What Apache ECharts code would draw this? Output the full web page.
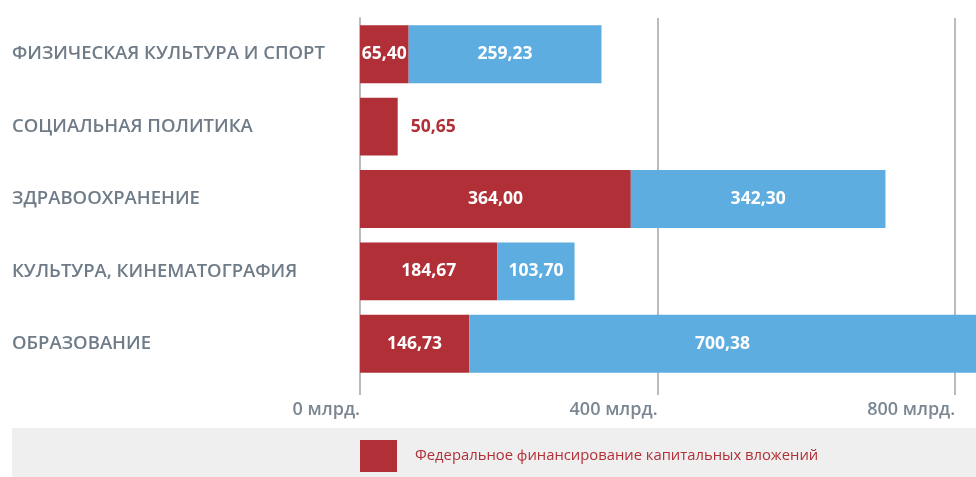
<!DOCTYPE html>
<html>
<head>
<meta charset="utf-8">
<script src="https://cdn.jsdelivr.net/npm/echarts@6/dist/echarts.min.js"></script>
<style>
  html, body { margin: 0; padding: 0; background: #fff; }
  #chart { width: 976px; height: 477px; }
</style>
</head>
<body>
<div id="chart"></div>
<script>
// категории сверху вниз
var categories = ['ФИЗИЧЕСКАЯ КУЛЬТУРА И СПОРТ', 'СОЦИАЛЬНАЯ ПОЛИТИКА', 'ЗДРАВООХРАНЕНИЕ',
                  'КУЛЬТУРА, КИНЕМАТОГРАФИЯ', 'ОБРАЗОВАНИЕ'];
var federal = [65.40, 50.65, 364.00, 184.67, 146.73];
var other = [259.23, null, 342.30, 103.70, 700.38];
var xTicks = [0, 400, 800];
var seriesNames = ['Федеральное финансирование капитальных вложений', 'Прочие источники'];

var RED = '#b12f36';
var BLUE = '#5dade0';

function fmt(v) {
    return v.toFixed(2).replace('.', ',');
}

var federalData = federal.map(function (v, i) {
    if (other[i] == null) {
        // нет второго столбца: подпись справа, красным
        return {
            value: v,
            label: { position: 'right', distance: 13, color: RED }
        };
    }
    return v;
});

var myChart = echarts.init(document.getElementById('chart'));
var option = {
    backgroundColor: '#fff',
    animation: false,
    graphic: [
        {
            type: 'rect',
            left: 12, top: 428,
            shape: { width: 964, height: 49 },
            style: { fill: '#efefef' },
            z: -1
        }
    ],
    grid: {
        left: 360,
        right: 0,
        top: 18,
        bottom: 97
    },
    legend: {
        data: [seriesNames[0]],
        left: 360,
        top: 440,
        padding: 0,
        itemWidth: 37,
        itemHeight: 32,
        icon: 'rect',
        textStyle: {
            color: RED,
            fontSize: 14.8,
            fontFamily: 'Open Sans',
            padding: [0, 0, 0, 13]
        }
    },
    xAxis: {
        type: 'value',
        min: 0,
        max: 828,
        interval: 400,
        axisLine: { show: false },
        axisTick: {
            show: true,
            length: 15,
            lineStyle: { color: '#b8bcbf', width: 2 }
        },
        splitLine: {
            show: true,
            showMaxLine: false,
            lineStyle: { color: '#b8bcbf', width: 2 }
        },
        axisLabel: {
            showMaxLabel: false,
            align: 'right',
            margin: 21,
            color: '#7a8792',
            fontSize: 18,
            fontWeight: 600,
            fontFamily: 'Open Sans',
            formatter: function (v) {
                return xTicks.indexOf(v) >= 0 ? v + ' млрд.' : '';
            }
        }
    },
    yAxis: {
        type: 'category',
        inverse: true,
        data: categories,
        axisLine: {
            show: true,
            lineStyle: { color: '#b8bcbf', width: 2 }
        },
        axisTick: { show: false },
        axisLabel: {
            align: 'left',
            margin: 348,
            color: '#6f7c88',
            fontSize: 18.5,
            fontWeight: 600,
            fontFamily: 'Open Sans'
        }
    },
    series: [
        {
            name: seriesNames[0],
            type: 'bar',
            stack: 'total',
            barCategoryGap: '20%',
            itemStyle: { color: RED },
            label: {
                show: true,
                position: 'inside',
                color: '#fff',
                fontWeight: 'bold',
                fontSize: 17.5,
                fontFamily: 'Open Sans',
                formatter: function (p) { return fmt(p.value); }
            },
            data: federalData
        },
        {
            name: seriesNames[1],
            type: 'bar',
            stack: 'total',
            barCategoryGap: '20%',
            itemStyle: { color: BLUE },
            label: {
                show: true,
                position: 'inside',
                color: '#fff',
                fontWeight: 'bold',
                fontSize: 17.5,
                fontFamily: 'Open Sans',
                formatter: function (p) { return p.value == null ? '' : fmt(p.value); }
            },
            data: other
        }
    ]
};
myChart.setOption(option);
</script>
</body>
</html>
